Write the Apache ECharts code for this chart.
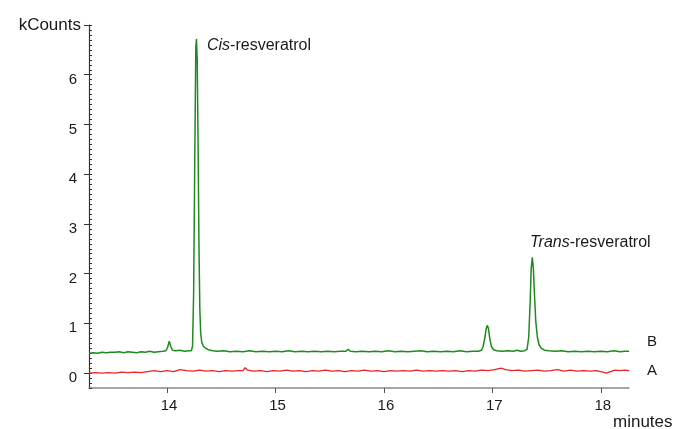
<!DOCTYPE html>
<html>
<head>
<meta charset="utf-8">
<script src="https://cdn.jsdelivr.net/npm/echarts@6/dist/echarts.min.js"></script>
<style>html,body{margin:0;padding:0;background:#fff;}#c{width:681px;height:429px;}</style>
</head>
<body>
<div id="c"></div>
<script>
// Trace B (green): [minutes, kCounts]
const traceB = [
  [13.28,0.40],[13.32,0.41],[13.36,0.40],[13.40,0.42],[13.44,0.41],[13.48,0.42],[13.52,0.42],[13.56,0.43],
  [13.60,0.41],[13.64,0.43],[13.68,0.42],[13.72,0.41],[13.76,0.43],[13.80,0.42],[13.84,0.44],[13.88,0.42],
  [13.92,0.43],[13.96,0.44],[13.99,0.45],[14.005,0.52],[14.02,0.64],[14.035,0.53],[14.05,0.46],[14.08,0.45],
  [14.12,0.46],[14.16,0.44],[14.20,0.45],[14.225,0.45],[14.235,0.55],[14.245,1.6],[14.255,4.2],[14.265,6.55],
  [14.271,6.72],[14.278,6.3],[14.286,4.6],[14.294,2.6],[14.302,1.3],[14.31,0.8],[14.32,0.62],[14.335,0.54],
  [14.355,0.50],[14.38,0.47],[14.42,0.45],[14.46,0.44],[14.52,0.45],[14.58,0.43],[14.64,0.44],[14.70,0.43],
  [14.76,0.45],[14.82,0.43],[14.88,0.44],[14.94,0.43],[15.00,0.44],[15.06,0.43],[15.12,0.45],[15.18,0.43],
  [15.24,0.44],[15.30,0.43],[15.36,0.44],[15.42,0.43],[15.48,0.44],[15.54,0.43],[15.60,0.44],[15.65,0.44],
  [15.67,0.48],[15.69,0.44],[15.74,0.43],[15.80,0.44],[15.86,0.43],[15.92,0.44],[15.98,0.43],[16.04,0.45],
  [16.10,0.43],[16.16,0.44],[16.22,0.43],[16.28,0.44],[16.34,0.45],[16.40,0.43],[16.46,0.44],[16.52,0.43],
  [16.58,0.44],[16.64,0.43],[16.70,0.45],[16.76,0.43],[16.82,0.44],[16.87,0.44],[16.90,0.46],[16.915,0.54],
  [16.93,0.70],[16.942,0.88],[16.953,0.96],[16.964,0.89],[16.976,0.70],[16.99,0.54],[17.01,0.47],[17.04,0.45],
  [17.09,0.44],[17.14,0.45],[17.19,0.44],[17.23,0.46],[17.26,0.44],[17.30,0.45],[17.32,0.48],[17.335,0.72],
  [17.348,1.4],[17.358,2.1],[17.368,2.33],[17.378,2.1],[17.39,1.5],[17.40,1.05],[17.415,0.72],[17.43,0.57],
  [17.45,0.50],[17.48,0.46],[17.52,0.45],[17.58,0.44],[17.64,0.45],[17.70,0.43],[17.76,0.44],[17.82,0.43],
  [17.88,0.44],[17.94,0.43],[18.00,0.44],[18.06,0.43],[18.12,0.45],[18.18,0.43],[18.22,0.44],[18.26,0.44]
];
// Trace A (red): [minutes, kCounts]
const traceA = [
  [13.28,0.00],[13.34,0.01],[13.40,0.00],[13.46,0.01],[13.52,0.00],[13.58,0.02],[13.64,0.01],[13.70,0.02],
  [13.76,0.01],[13.82,0.03],[13.88,0.05],[13.94,0.03],[14.00,0.05],[14.06,0.03],[14.12,0.07],[14.18,0.05],
  [14.24,0.04],[14.30,0.06],[14.36,0.04],[14.42,0.05],[14.48,0.03],[14.54,0.05],[14.60,0.04],[14.66,0.05],
  [14.70,0.05],[14.72,0.11],[14.74,0.06],[14.80,0.04],[14.86,0.05],[14.92,0.03],[14.98,0.05],[15.04,0.04],
  [15.10,0.06],[15.16,0.04],[15.22,0.05],[15.28,0.03],[15.34,0.05],[15.40,0.04],[15.46,0.06],[15.52,0.04],
  [15.58,0.05],[15.64,0.03],[15.70,0.05],[15.76,0.04],[15.82,0.06],[15.88,0.04],[15.94,0.05],[16.00,0.03],
  [16.06,0.05],[16.12,0.04],[16.18,0.05],[16.24,0.04],[16.30,0.06],[16.36,0.04],[16.42,0.05],[16.48,0.04],
  [16.54,0.05],[16.60,0.04],[16.66,0.05],[16.72,0.03],[16.78,0.05],[16.84,0.04],[16.90,0.06],[16.96,0.05],
  [17.02,0.07],[17.08,0.10],[17.12,0.07],[17.18,0.05],[17.24,0.06],[17.30,0.04],[17.36,0.05],[17.42,0.06],
  [17.48,0.04],[17.54,0.05],[17.60,0.07],[17.66,0.04],[17.72,0.06],[17.78,0.04],[17.84,0.05],[17.90,0.04],
  [17.96,0.05],[18.02,0.02],[18.05,0.00],[18.09,0.03],[18.13,0.06],[18.18,0.05],[18.22,0.06],[18.26,0.05]
];
const xTickValues = [14, 15, 16, 17, 18];
const yTickValues = [0, 1, 2, 3, 4, 5, 6, 7];
const yLabelValues = [0, 1, 2, 3, 4, 5, 6];
const xRange = [13.28, 18.26];
const yRange = [-0.3, 7];

const FONT = "'Liberation Sans', Arial, sans-serif";
const TXT = '#1a1a1a';

const chart = echarts.init(document.getElementById('c'), null, {renderer: 'canvas'});
chart.setOption({
  animation: false,
  grid: {left: 89, right: 52, top: 25, bottom: 41, containLabel: false},
  xAxis: {
    type: 'value', min: xRange[0], max: xRange[1],
    axisLine: {show: true, onZero: false, lineStyle: {color: '#888', width: 1.5}},
    axisTick: {show: true, length: 5, lineStyle: {color: '#555'}, customValues: xTickValues},
    axisLabel: {color: TXT, fontSize: 15, fontFamily: FONT, margin: 10, padding: [0, 0, 0, 4], customValues: xTickValues},
    splitLine: {show: false}
  },
  yAxis: [{
    type: 'value', min: yRange[0], max: yRange[1],
    axisLine: {show: true, lineStyle: {color: '#333', width: 1.2}},
    axisTick: {show: true, length: 5, lineStyle: {color: '#333'}, customValues: yTickValues},
    axisLabel: {color: TXT, fontSize: 15, fontFamily: FONT, margin: 12, verticalAlign: 'top', lineHeight: 10, customValues: yLabelValues},
    splitLine: {show: false}
  }, {
    type: 'value', position: 'left', min: yRange[0], max: yRange[1], interval: 0.1,
    axisLine: {show: false},
    axisTick: {show: true, inside: true, length: 3, lineStyle: {color: '#333'}},
    axisLabel: {show: false},
    splitLine: {show: false}
  }],
  series: [{
    name: 'B', type: 'line', data: traceB, showSymbol: false, yAxisIndex: 0,
    lineStyle: {color: '#1f8a1f', width: 1.5}, itemStyle: {color: '#1f8a1f'}
  }, {
    name: 'A', type: 'line', data: traceA, showSymbol: false, yAxisIndex: 0,
    lineStyle: {color: '#e8262a', width: 1.4}, itemStyle: {color: '#e8262a'}
  }],
  graphic: [
    {type: 'text', x: 81, y: 25, style: {text: 'kCounts', fill: TXT, font: "17px " + FONT, align: 'right', verticalAlign: 'middle'}},
    {type: 'text', x: 613, y: 422, style: {text: 'minutes', fill: TXT, font: "17px " + FONT, align: 'left', verticalAlign: 'middle'}},
    {type: 'text', x: 647, y: 342, style: {text: 'B', fill: TXT, font: "15px " + FONT, align: 'left', verticalAlign: 'middle'}},
    {type: 'text', x: 647, y: 371, style: {text: 'A', fill: TXT, font: "15px " + FONT, align: 'left', verticalAlign: 'middle'}},
    {type: 'text', x: 207, y: 46, style: {
      text: '{i|Cis}{n|-resveratrol}', verticalAlign: 'middle', align: 'left',
      rich: {i: {fontStyle: 'italic', fontSize: 16, fontFamily: FONT, fill: TXT}, n: {fontSize: 16, fontFamily: FONT, fill: TXT}}
    }},
    {type: 'text', x: 530, y: 243, style: {
      text: '{i|Trans}{n|-resveratrol}', verticalAlign: 'middle', align: 'left',
      rich: {i: {fontStyle: 'italic', fontSize: 16, fontFamily: FONT, fill: TXT}, n: {fontSize: 16, fontFamily: FONT, fill: TXT}}
    }}
  ]
});
</script>
</body>
</html>
